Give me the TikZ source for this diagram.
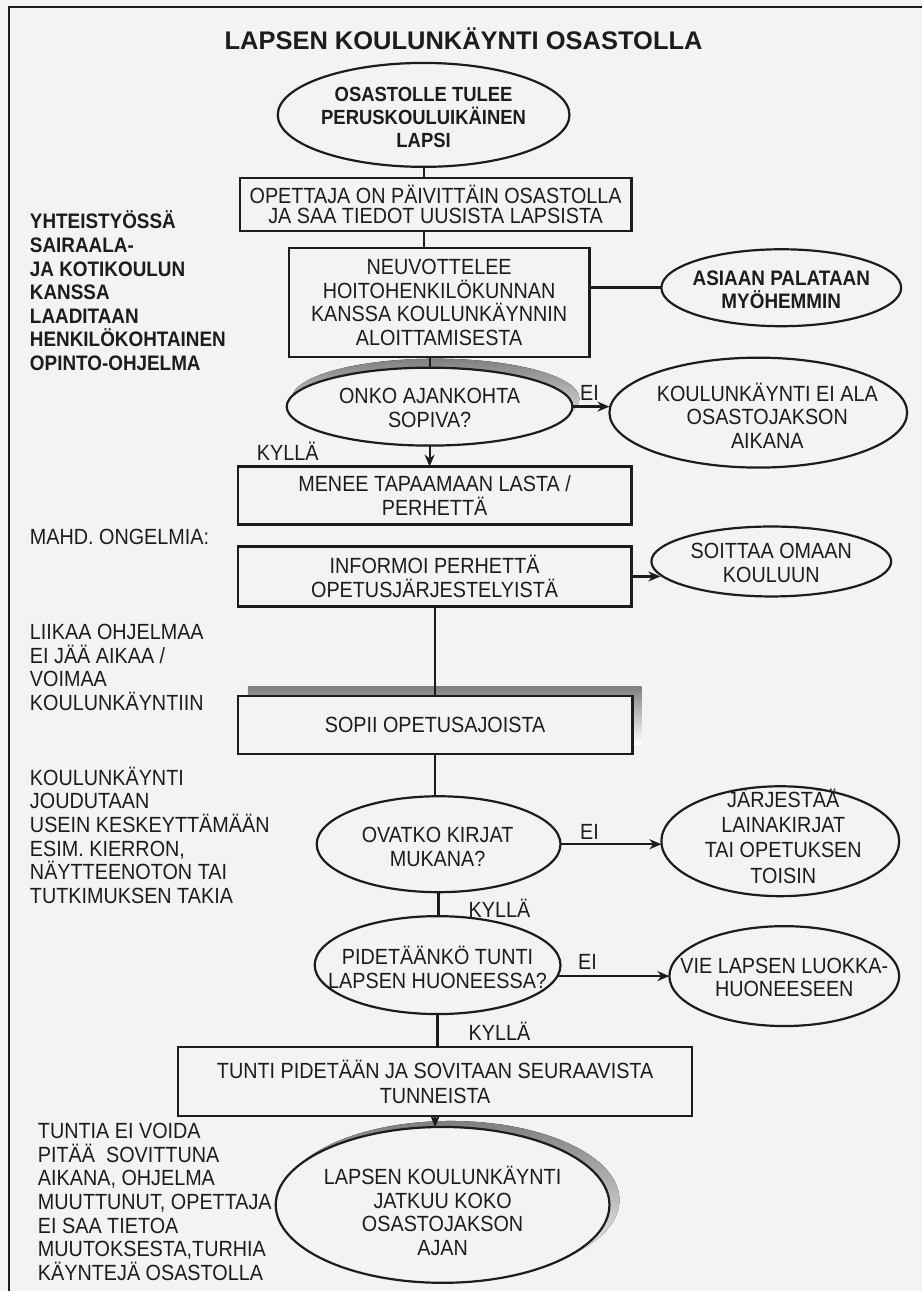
\documentclass[tikz,border=0pt]{standalone}
\usepackage{fontspec}
\setmainfont{Liberation Sans}[FakeStretch=0.9]
\newfontfamily\titlefont{Liberation Sans}
\usetikzlibrary{shapes.geometric,arrows.meta,calc}
\definecolor{bgc}{RGB}{243,243,245}
\definecolor{ink}{RGB}{28,28,30}
\definecolor{shade}{RGB}{55,55,58}
\begin{document}
\begin{tikzpicture}[x=1pt,y=-1pt,
  every node/.style={inner sep=0pt, outer sep=0pt, text=ink},
  reg/.style={font=\fontsize{22}{23.6}\selectfont, align=center},
  bld/.style={font=\fontsize{21}{23.6}\selectfont\bfseries, align=center},
  regl/.style={font=\fontsize{22}{23.6}\selectfont, align=left, anchor=west},
  boldl/.style={font=\fontsize{21}{23.6}\selectfont\bfseries, align=left, anchor=west},
  boxn/.style={draw=ink, line width=2.2pt, fill=bgc, rectangle, reg},
  elln/.style={draw=ink, line width=2.2pt, fill=bgc, ellipse},
  conn/.style={draw=ink, line width=2.2pt},
  arr/.style={conn, -{Stealth[length=12pt,width=10pt]}},
  lbl/.style={font=\fontsize{22}{23.6}\selectfont, anchor=base},
]
% background and frame
\fill[bgc] (0,0) rectangle (923,1292);
\draw[ink, line width=2.4pt] (9,1292) -- (9,7) -- (923,7);

% title
\node[font=\titlefont\fontsize{25.5}{28}\selectfont\bfseries, anchor=base] (title) at (464,50) {LAPSEN KOULUNKÄYNTI OSASTOLLA};

% shadows (scanned drop shadows)
\fill[shade] (436,399) ellipse [x radius=144, y radius=40];
\fill[shade] (248,687) rectangle (642,745);
\fill[shade] (451,1201) ellipse [x radius=169, y radius=79];

% main column
\node[elln, minimum width=292, minimum height=104] (e1) at (424,115) {};
\node[bld, font=\fontsize{20.5}{23}\selectfont\bfseries] (e1t) at (424,118) {OSASTOLLE TULEE\\PERUSKOULUIKÄINEN\\LAPSI};

\node[boxn, font=\fontsize{22}{19.5}\selectfont, minimum width=392, minimum height=53] (b2) at (436,204.5) {OPETTAJA ON PÄIVITTÄIN OSASTOLLA\\JA SAA TIEDOT UUSISTA LAPSISTA};

\node[boxn, minimum width=301, minimum height=109] (b3) at (439.5,302.5) {NEUVOTTELEE\\HOITOHENKILÖKUNNAN\\KANSSA KOULUNKÄYNNIN\\ALOITTAMISESTA};

\node[elln, minimum width=240, minimum height=77] (e2) at (782,288) {};
\node[bld] (e2t) at (782,290) {ASIAAN PALATAAN\\MYÖHEMMIN};

\node[elln, minimum width=286, minimum height=78] (d1) at (430,407) {};
\node[reg] (d1t) at (430,408.5) {ONKO AJANKOHTA\\SOPIVA?};

\node[elln, minimum width=298, minimum height=110] (e3) at (759,413) {};
\node[reg] (e3t) at (768,416) {KOULUNKÄYNTI EI ALA\\OSASTOJAKSON\\AIKANA};

\node[boxn, font=\fontsize{22}{24}\selectfont, minimum width=394, minimum height=58] (b4) at (435,496) {MENEE TAPAAMAAN LASTA /\\PERHETTÄ};

\node[boxn, minimum width=394, minimum height=60] (b5) at (435,577) {INFORMOI PERHETTÄ\\OPETUSJÄRJESTELYISTÄ};

\node[elln, minimum width=240, minimum height=70] (e4) at (772,562) {};
\node[reg] (e4t) at (772,563.5) {SOITTAA OMAAN\\KOULUUN};

\node[boxn, minimum width=395, minimum height=58] (b6) at (435.5,726) {SOPII OPETUSAJOISTA};

\node[elln, minimum width=244, minimum height=96] (d2) at (439,845) {};
\node[reg] (d2t) at (438,847.5) {OVATKO KIRJAT\\MUKANA?};

\node[elln, minimum width=238, minimum height=110] (e5) at (781,842) {};
\node[reg, font=\fontsize{22}{25.3}\selectfont] (e5t) at (784,837) {JÄRJESTÄÄ\\LAINAKIRJAT\\TAI OPETUKSEN\\TOISIN};

\node[elln, minimum width=246, minimum height=98] (d3) at (438,966) {};
\node[reg] (d3t) at (438,968.5) {PIDETÄÄNKÖ TUNTI\\LAPSEN HUONEESSA?};

\node[elln, minimum width=230, minimum height=100] (e6) at (785,977) {};
\node[reg] (e6t) at (785,978.5) {VIE LAPSEN LUOKKA-\\HUONEESEEN};

\node[boxn, font=\fontsize{22}{25}\selectfont, minimum width=515, minimum height=69] (b7) at (435.5,1082.5) {TUNTI PIDETÄÄN JA SOVITAAN SEURAAVISTA\\TUNNEISTA};

\node[elln, minimum width=334, minimum height=156] (e7) at (443,1206) {};
\node[reg] (e7t) at (443,1212) {LAPSEN KOULUNKÄYNTI\\JATKUU KOKO\\OSASTOJAKSON\\AJAN};

% connectors
\draw[conn] (e1.south) -- (e1.south |- b2.north);
\draw[conn] (e1.south |- b2.south) -- (e1.south |- b3.north);
\draw[conn] (b3.south -| d1.north) -- (d1.north);
\draw[conn, line width=3pt] (b3.east |- e2.west) -- (e2.west);
\draw[arr, line width=2.8pt] (d1.east) -- (d1.east -| e3.west);
\draw[arr] (d1.south) -- (d1.south |- b4.north);
\draw[arr] (b5.east) -- ($(b5.east -| e4.west)+(9,0)$);
\draw[conn] (b5.south) -- (b5.south |- b6.north);
\draw[conn] (b6.south) -- (b6.south |- d2.north);
\draw[arr] (d2.east) -- (d2.east -| e5.west);
\draw[conn] (d2.south) -- (d2.south |- d3.north);
\draw[arr] ($(e6.west -| d3.east)+(-3,0)$) -- (e6.west);
\draw[conn] (d3.south) -- (d3.south |- b7.north);
\draw[arr] (b7.south) -- (b7.south |- e7.north);

% edge labels
\node[lbl] (ei1) at (590,401) {EI};
\node[lbl] (ky1) at (288,461) {KYLLÄ};
\node[lbl] (ei2) at (590,840) {EI};
\node[lbl] (ky2) at (500,918) {KYLLÄ};
\node[lbl] (ei3) at (588,970) {EI};
\node[lbl] (ky3) at (500,1041) {KYLLÄ};

% side notes
\node[boldl] (n1) at (30,291) {YHTEISTYÖSSÄ\\SAIRAALA-\\JA KOTIKOULUN\\KANSSA\\LAADITAAN\\HENKILÖKOHTAINEN\\OPINTO-OHJELMA};
\node[lbl, anchor=base west] (n2) at (30,545) {MAHD. ONGELMIA:};
\node[regl] (n3) at (30,668) {LIIKAA OHJELMAA\\EI JÄÄ AIKAA /\\VOIMAA\\KOULUNKÄYNTIIN};
\node[regl] (n4) at (30,836) {KOULUNKÄYNTI\\JOUDUTAAN\\USEIN KESKEYTTÄMÄÄN\\ESIM. KIERRON,\\NÄYTTEENOTON TAI\\TUTKIMUKSEN TAKIA};
\node[regl] (n5) at (38,1203) {TUNTIA EI VOIDA\\PITÄÄ~ SOVITTUNA\\AIKANA, OHJELMA\\MUUTTUNUT, OPETTAJA\\EI SAA TIETOA\\MUUTOKSESTA,TURHIA\\KÄYNTEJÄ OSASTOLLA};
\end{tikzpicture}
\end{document}
